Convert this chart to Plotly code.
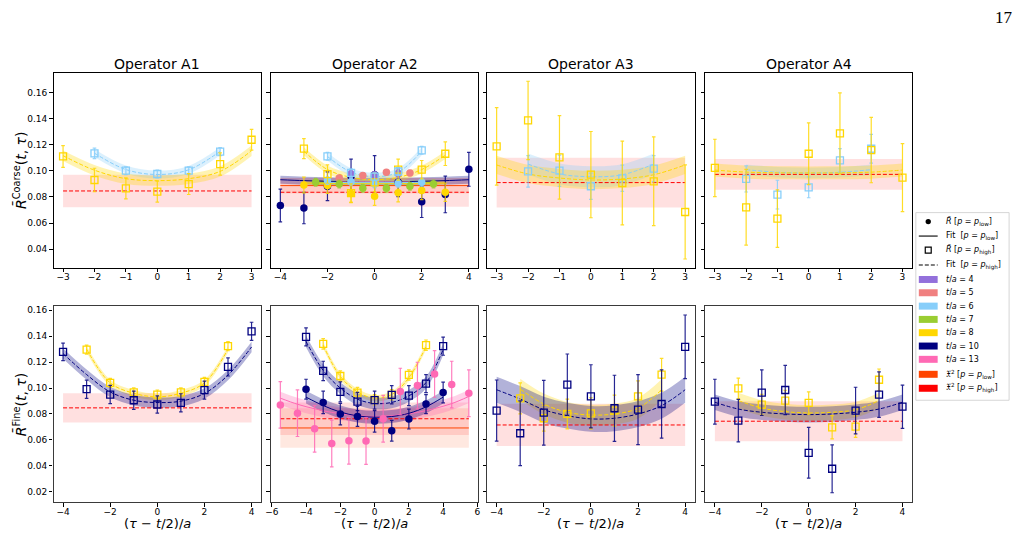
import plotly.graph_objects as go

# ------------------------------------------------------------------ data
TAU_4 = [-1, 0, 1]
TAU_5 = [-1.5, -0.5, 0.5, 1.5]
TAU_6 = [-2, -1, 0, 1, 2]
TAU_7 = [-2.5, -1.5, -0.5, 0.5, 1.5, 2.5]
TAU_8 = [-3, -2, -1, 0, 1, 2, 3]
TAU_10 = [-4, -3, -2, -1, 0, 1, 2, 3, 4]
TAU_13 = [-5.5, -4.5, -3.5, -2.5, -1.5, -0.5, 0.5, 1.5, 2.5, 3.5, 4.5, 5.5]

OPERATORS = ["Operator A1", "Operator A2", "Operator A3", "Operator A4"]
Y_TICKS_COARSE = [0.04, 0.06, 0.08, 0.10, 0.12, 0.14, 0.16]
Y_TICKS_FINE = [0.02, 0.04, 0.06, 0.08, 0.10, 0.12, 0.14, 0.16]
X_TICKS_UNIT = [-3, -2, -1, 0, 1, 2, 3]
X_TICKS_EVEN = [-4, -2, 0, 2, 4]
X_TICKS_WIDE = [-6, -4, -2, 0, 2, 4, 6]

# --- A1 coarse
A1C_T6_HI = [0.1134, 0.1001, 0.0976, 0.1001, 0.1147]
A1C_T6_HI_E = [0.004, 0.003, 0.003, 0.003, 0.003]
A1C_T6_FIT = [0.1135, 0.1010, 0.0972, 0.1008, 0.1150]
A1C_T8_HI = [0.1110, 0.0930, 0.0866, 0.0841, 0.0899, 0.1052, 0.1238]
A1C_T8_HI_E = [0.0083, 0.009, 0.008, 0.008, 0.008, 0.0085, 0.008]
A1C_T8_FIT = [0.1116, 0.1005, 0.0940, 0.0925, 0.0940, 0.0996, 0.1154]
A1C_CHI_HI = 0.0846
A1C_CHI_HI_W = 0.0125

# --- A2 coarse
A2C_T4_LO = [0.0975, 0.0965, 0.0979]
A2C_T4_LO_E = [0.003, 0.003, 0.003]
A2C_T4_FIT = [0.0920, 0.0918, 0.0920]
A2C_T5_LO = [0.0946, 0.0964, 0.0989, 0.0984]
A2C_T5_LO_E = [0.002, 0.002, 0.002, 0.002]
A2C_T5_FIT = [0.0916, 0.0914, 0.0914, 0.0916]
A2C_T6_LO = [0.0926, 0.0916, 0.0900, 0.0905, 0.0913]
A2C_T6_LO_E = [0.003, 0.003, 0.003, 0.003, 0.003]
A2C_T6_FIT = [0.0912, 0.0910, 0.0909, 0.0910, 0.0912]
A2C_T7_LO = [0.0913, 0.0900, 0.0867, 0.0867, 0.0882, 0.0900]
A2C_T7_LO_E = [0.003, 0.003, 0.003, 0.003, 0.003, 0.003]
A2C_T7_FIT = [0.0911, 0.0909, 0.0908, 0.0908, 0.0909, 0.0911]
A2C_T8_LO = [0.0892, 0.0887, 0.0826, 0.0806, 0.0832, 0.0849, 0.0837]
A2C_T8_LO_E = [0.006, 0.006, 0.007, 0.007, 0.007, 0.007, 0.007]
A2C_T8_LO_FIT = [0.0907, 0.0905, 0.0904, 0.0903, 0.0904, 0.0905, 0.0907]
A2C_T10_LO = [0.0735, 0.0715, 0.0882, 0.0959, 0.0971, 0.0913, 0.0763, 0.0819, 0.1012]
A2C_T10_LO_E = [0.0125, 0.012, 0.011, 0.013, 0.0146, 0.011, 0.012, 0.014, 0.013]
A2C_T10_LO_FIT = [0.0932, 0.0925, 0.0920, 0.0917, 0.0916, 0.0917, 0.0920, 0.0925, 0.0932]
A2C_T6_HI = [0.1111, 0.0985, 0.0955, 0.0995, 0.1157]
A2C_T6_HI_E = [0.003, 0.003, 0.003, 0.003, 0.003]
A2C_T6_HI_FIT = [0.1110, 0.0990, 0.0955, 0.0990, 0.1150]
A2C_T8_HI = [0.1170, 0.0975, 0.0830, 0.0912, 0.1009, 0.1009, 0.1131]
A2C_T8_HI_E = [0.0077, 0.007, 0.007, 0.007, 0.008, 0.007, 0.009]
A2C_T8_HI_FIT = [0.1150, 0.1010, 0.0950, 0.0933, 0.0950, 0.1010, 0.1120]
A2C_CHI_LO = 0.0887
A2C_CHI_LO_W = 0.006
A2C_CHI_HI = 0.0836
A2C_CHI_HI_W = 0.011

# --- A3 coarse
A3C_T6_HI = [0.0996, 0.1001, 0.0882, 0.0943, 0.1017]
A3C_T6_HI_E = [0.012, 0.012, 0.010, 0.010, 0.010]
A3C_T6_FIT = [0.1052, 0.0976, 0.0955, 0.0970, 0.1052]
A3C_T8_HI = [0.1187, 0.1386, 0.1103, 0.0971, 0.0907, 0.0920, 0.0685]
A3C_T8_HI_E = [0.0297, 0.030, 0.032, 0.033, 0.032, 0.034, 0.036]
A3C_T8_FIT = [0.1045, 0.0976, 0.0945, 0.0930, 0.0938, 0.0970, 0.1045]
A3C_CHI_HI = 0.0910
A3C_CHI_HI_W = 0.019

# --- A4 coarse
A4C_T6_HI = [0.0938, 0.0818, 0.0874, 0.1080, 0.1169]
A4C_T6_HI_E = [0.010, 0.011, 0.008, 0.009, 0.011]
A4C_T6_FIT = [0.1009, 0.0989, 0.0983, 0.0989, 0.1009]
A4C_T8_HI = [0.1022, 0.0721, 0.0634, 0.1131, 0.1287, 0.1159, 0.0948]
A4C_T8_HI_E = [0.022, 0.029, 0.022, 0.0236, 0.031, 0.025, 0.026]
A4C_T8_FIT = [0.1006, 0.0990, 0.0985, 0.0984, 0.0985, 0.0990, 0.1006]
A4C_CHI_HI = 0.0973
A4C_CHI_HI_W = 0.0118

# --- A1 fine
A1F_T8_HI = [0.1297, 0.1040, 0.0966, 0.0950, 0.0966, 0.1048, 0.1323]
A1F_T8_HI_E = [0.0035, 0.0035, 0.0035, 0.0035, 0.0035, 0.0035, 0.0035]
A1F_T8_FIT = [0.1300, 0.1040, 0.0960, 0.0932, 0.0960, 0.1040, 0.1300]
A1F_T10_HI = [0.1279, 0.0991, 0.0950, 0.0906, 0.0873, 0.0886, 0.0984, 0.1163, 0.1438]
A1F_T10_HI_E = [0.0067, 0.007, 0.007, 0.007, 0.0067, 0.007, 0.007, 0.007, 0.007]
A1F_T10_FIT = [0.1266, 0.1104, 0.0970, 0.0906, 0.0888, 0.0899, 0.0958, 0.1100, 0.1317]
A1F_CHI_HI = 0.0847
A1F_CHI_HI_W = 0.0112

# --- A2 fine
A2F_T8_HI = [0.1341, 0.1093, 0.0965, 0.0909, 0.0948, 0.1101, 0.1331]
A2F_T8_HI_E = [0.004, 0.004, 0.004, 0.004, 0.004, 0.004, 0.004]
A2F_T8_FIT = [0.1330, 0.1090, 0.0970, 0.0922, 0.0950, 0.1080, 0.1320]
A2F_T10_HI = [0.1395, 0.1132, 0.0971, 0.0896, 0.0907, 0.0948, 0.0942, 0.1034, 0.1323]
A2F_T10_HI_E = [0.007, 0.0075, 0.0077, 0.007, 0.007, 0.007, 0.0077, 0.007, 0.007]
A2F_T10_HI_FIT = [0.1360, 0.1137, 0.1000, 0.0914, 0.0881, 0.0889, 0.0940, 0.1042, 0.1298]
A2F_T10_LO = [0.0991, 0.0889, 0.0799, 0.0781, 0.0743, 0.0671, 0.0761, 0.0876, 0.0965]
A2F_T10_LO_E = [0.0077, 0.0087, 0.0083, 0.0077, 0.0083, 0.008, 0.0077, 0.0074, 0.008]
A2F_T10_LO_FIT = [0.0930, 0.0865, 0.0815, 0.0785, 0.0775, 0.0780, 0.0805, 0.0855, 0.0930]
A2F_T13_LO = [0.0870, 0.0806, 0.0685, 0.0572, 0.0593, 0.0591, 0.0763, 0.0973, 0.1019,
              0.1109, 0.1027, 0.0960]
A2F_T13_LO_E = [0.018, 0.018, 0.018, 0.018, 0.018, 0.018, 0.018, 0.018, 0.018, 0.018,
                0.018, 0.018]
A2F_T13_LO_FIT = [0.0922, 0.0875, 0.0840, 0.0812, 0.0793, 0.0782, 0.0782, 0.0793, 0.0812,
                  0.0842, 0.0880, 0.0935]
A2F_CHI_LO = 0.0692
A2F_CHI_LO_W = 0.0153
A2F_CHI_HI = 0.0763
A2F_CHI_HI_W = 0.0125

# --- A3 fine
A3F_T8_HI = [0.0920, 0.0767, 0.0800, 0.0805, 0.0826, 0.0936, 0.1103]
A3F_T8_HI_E = [0.012, 0.010, 0.0115, 0.012, 0.012, 0.012, 0.0126]
A3F_T8_FIT = [0.0992, 0.0877, 0.0813, 0.0792, 0.0800, 0.0844, 0.0987]
A3F_T10_HI = [0.0826, 0.0651, 0.0810, 0.1026, 0.0936, 0.0844, 0.0833, 0.0877, 0.1318]
A3F_T10_HI_E = [0.0236, 0.025, 0.025, 0.0237, 0.0244, 0.0255, 0.027, 0.0264, 0.0246]
A3F_T10_FIT = [0.0987, 0.0915, 0.0833, 0.0787, 0.0762, 0.0767, 0.0800, 0.0864, 0.0987]
A3F_CHI_HI = 0.0715
A3F_CHI_HI_W = 0.0163

# --- A4 fine
A4F_T8_HI = [0.0997, 0.0872, 0.0903, 0.0885, 0.0697, 0.0703, 0.1064]
A4F_T8_HI_E = [0.008, 0.008, 0.008, 0.0086, 0.009, 0.0083, 0.0083]
A4F_T8_FIT = [0.0903, 0.0846, 0.0818, 0.0808, 0.0813, 0.0833, 0.0903]
A4F_T10_HI = [0.0895, 0.0749, 0.0964, 0.0985, 0.0500, 0.0377, 0.0826, 0.0949, 0.0856]
A4F_T10_HI_E = [0.0173, 0.0164, 0.0176, 0.019, 0.0196, 0.0185, 0.018, 0.0176, 0.0167]
A4F_T10_FIT = [0.0890, 0.0838, 0.0813, 0.0800, 0.0795, 0.0800, 0.0813, 0.0838, 0.0890]
A4F_CHI_HI = 0.0744
A4F_CHI_HI_W = 0.0155

LEGEND_LABELS = [
    "<i>R̄</i> [<i>p</i> = <i>p</i><sub>low</sub>]",
    "Fit  [<i>p</i> = <i>p</i><sub>low</sub>]",
    "<i>R̄</i> [<i>p</i> = <i>p</i><sub>high</sub>]",
    "Fit  [<i>p</i> = <i>p</i><sub>high</sub>]",
    "<i>t</i>/<i>a</i> = 4", "<i>t</i>/<i>a</i> = 5", "<i>t</i>/<i>a</i> = 6",
    "<i>t</i>/<i>a</i> = 7", "<i>t</i>/<i>a</i> = 8", "<i>t</i>/<i>a</i> = 10",
    "<i>t</i>/<i>a</i> = 13",
    "𝔛<sup>2</sup> [<i>p</i> = <i>p</i><sub>low</sub>]",
    "𝔛<sup>2</sup> [<i>p</i> = <i>p</i><sub>high</sub>]",
]

# ------------------------------------------------------------------ styles
COL = {"t4": "#9370DB", "t5": "#F08080", "t6": "#87CEFA", "t7": "#9ACD32",
       "t8": "#FFD700", "t10": "#000080", "t13": "#FF69B4",
       "chi_lo": "#FF4500", "chi_hi": "#FF0000"}
LEG_KEYS = ["t4", "t5", "t6", "t7", "t8", "t10", "t13", "chi_lo", "chi_hi"]
FONT = "DejaVu Sans"
W, H = 1024, 535
COLS_PX = [(48, 257), (267, 476), (485, 694), (705, 913)]
ROWS_PX = [(72, 267), (306, 502)]

# series table: panel, tau, y, err, fit, fit half width, colour, kind
SERIES = [
    (1, TAU_6, A1C_T6_HI, A1C_T6_HI_E, A1C_T6_FIT, 0.003, "t6", "hi"),
    (1, TAU_8, A1C_T8_HI, A1C_T8_HI_E, A1C_T8_FIT, 0.004, "t8", "hi"),
    (2, TAU_10, A2C_T10_LO, A2C_T10_LO_E, A2C_T10_LO_FIT, 0.003, "t10", "lo"),
    (2, TAU_4, A2C_T4_LO, A2C_T4_LO_E, A2C_T4_FIT, 0.0025, "t4", "lo"),
    (2, TAU_5, A2C_T5_LO, A2C_T5_LO_E, A2C_T5_FIT, 0.002, "t5", "lo"),
    (2, TAU_7, A2C_T7_LO, A2C_T7_LO_E, A2C_T7_FIT, 0.002, "t7", "lo"),
    (2, TAU_8, A2C_T8_LO, A2C_T8_LO_E, A2C_T8_LO_FIT, 0.002, "t8", "lo"),
    (2, TAU_6, A2C_T6_LO, A2C_T6_LO_E, A2C_T6_FIT, 0.002, "t6", "lo"),
    (2, TAU_8, A2C_T8_HI, A2C_T8_HI_E, A2C_T8_HI_FIT, 0.003, "t8", "hi"),
    (2, TAU_6, A2C_T6_HI, A2C_T6_HI_E, A2C_T6_HI_FIT, 0.003, "t6", "hi"),
    (3, TAU_6, A3C_T6_HI, A3C_T6_HI_E, A3C_T6_FIT, 0.008, "t6", "hi"),
    (3, TAU_8, A3C_T8_HI, A3C_T8_HI_E, A3C_T8_FIT, 0.007, "t8", "hi"),
    (4, TAU_6, A4C_T6_HI, A4C_T6_HI_E, A4C_T6_FIT, 0.004, "t6", "hi"),
    (4, TAU_8, A4C_T8_HI, A4C_T8_HI_E, A4C_T8_FIT, 0.005, "t8", "hi"),
    (5, TAU_8, A1F_T8_HI, A1F_T8_HI_E, A1F_T8_FIT, 0.0025, "t8", "hi"),
    (5, TAU_10, A1F_T10_HI, A1F_T10_HI_E, A1F_T10_FIT, 0.004, "t10", "hi"),
    (6, TAU_13, A2F_T13_LO, A2F_T13_LO_E, A2F_T13_LO_FIT, 0.005, "t13", "lo"),
    (6, TAU_10, A2F_T10_LO, A2F_T10_LO_E, A2F_T10_LO_FIT, 0.005, "t10", "lo"),
    (6, TAU_8, A2F_T8_HI, A2F_T8_HI_E, A2F_T8_FIT, 0.0025, "t8", "hi"),
    (6, TAU_10, A2F_T10_HI, A2F_T10_HI_E, A2F_T10_HI_FIT, 0.0045, "t10", "hi"),
    (7, TAU_8, A3F_T8_HI, A3F_T8_HI_E, A3F_T8_FIT, 0.008, "t8", "hi"),
    (7, TAU_10, A3F_T10_HI, A3F_T10_HI_E, A3F_T10_FIT, 0.010, "t10", "hi"),
    (8, TAU_8, A4F_T8_HI, A4F_T8_HI_E, A4F_T8_FIT, 0.006, "t8", "hi"),
    (8, TAU_10, A4F_T10_HI, A4F_T10_HI_E, A4F_T10_FIT, 0.006, "t10", "hi"),
]

# chi^2 table: panel, tau span, value, half width, colour, kind
CHI = [
    (1, TAU_8, A1C_CHI_HI, A1C_CHI_HI_W, "chi_hi", "hi"),
    (2, TAU_10, A2C_CHI_LO, A2C_CHI_LO_W, "chi_lo", "lo"),
    (2, TAU_10, A2C_CHI_HI, A2C_CHI_HI_W, "chi_hi", "hi"),
    (3, TAU_8, A3C_CHI_HI, A3C_CHI_HI_W, "chi_hi", "hi"),
    (4, TAU_8, A4C_CHI_HI, A4C_CHI_HI_W, "chi_hi", "hi"),
    (5, TAU_10, A1F_CHI_HI, A1F_CHI_HI_W, "chi_hi", "hi"),
    (6, TAU_13, A2F_CHI_LO, A2F_CHI_LO_W, "chi_lo", "lo"),
    (6, TAU_13, A2F_CHI_HI, A2F_CHI_HI_W, "chi_hi", "hi"),
    (7, TAU_10, A3F_CHI_HI, A3F_CHI_HI_W, "chi_hi", "hi"),
    (8, TAU_10, A4F_CHI_HI, A4F_CHI_HI_W, "chi_hi", "hi"),
]

X_RANGE = {1: [-3.3, 3.3], 2: [-4.4, 4.4], 3: [-3.3, 3.3], 4: [-3.3, 3.3],
           5: [-4.4, 4.4], 6: [-6.05, 6.05], 7: [-4.4, 4.4], 8: [-4.4, 4.4]}
X_TICKS = {1: X_TICKS_UNIT, 2: X_TICKS_EVEN, 3: X_TICKS_UNIT, 4: X_TICKS_UNIT,
           5: X_TICKS_EVEN, 6: X_TICKS_WIDE, 7: X_TICKS_EVEN, 8: X_TICKS_EVEN}
Y_RANGE = [[0.026, 0.175], [0.012, 0.163]]
Y_TICKS = [Y_TICKS_COARSE, Y_TICKS_FINE]

DASH = "4px,2px"


def rgba(h, a):
    h = h.lstrip("#")
    return "rgba(%d,%d,%d,%.3f)" % (int(h[0:2], 16), int(h[2:4], 16), int(h[4:6], 16), a)


def axn(k):
    return ("x" if k == 1 else "x%d" % k), ("y" if k == 1 else "y%d" % k)


fig = go.Figure()
common = dict(showlegend=False, hoverinfo="skip")

# layer 1: chi^2 bands
for k, tau, v, w, c, kind in CHI:
    xa, ya = axn(k)
    xs = [min(tau), max(tau)]
    fig.add_trace(go.Scatter(x=xs, y=[v - w, v - w], mode="lines", line=dict(width=0),
                             xaxis=xa, yaxis=ya, **common))
    fig.add_trace(go.Scatter(x=xs, y=[v + w, v + w], mode="lines", line=dict(width=0),
                             fill="tonexty", fillcolor=rgba(COL[c], 0.12),
                             xaxis=xa, yaxis=ya, **common))

# layer 2: fit bands
for k, tau, y, e, fit, fw, c, kind in SERIES:
    xa, ya = axn(k)
    lo = [f - fw for f in fit]
    hi = [f + fw for f in fit]
    fig.add_trace(go.Scatter(x=tau, y=lo, mode="lines", line=dict(width=0, shape="spline"),
                             xaxis=xa, yaxis=ya, **common))
    fig.add_trace(go.Scatter(x=tau, y=hi, mode="lines", line=dict(width=0, shape="spline"),
                             fill="tonexty", fillcolor=rgba(COL[c], 0.3),
                             xaxis=xa, yaxis=ya, **common))

# layer 3: lines
for k, tau, v, w, c, kind in CHI:
    xa, ya = axn(k)
    xs = [min(tau), max(tau)]
    fig.add_trace(go.Scatter(x=xs, y=[v, v], mode="lines",
                             line=dict(width=1, color=COL[c], dash=DASH if kind == "hi" else "solid"),
                             xaxis=xa, yaxis=ya, **common))
for k, tau, y, e, fit, fw, c, kind in SERIES:
    xa, ya = axn(k)
    fig.add_trace(go.Scatter(x=tau, y=fit, mode="lines",
                             line=dict(width=1, color=COL[c], shape="spline",
                                       dash=DASH if kind == "hi" else "solid"),
                             xaxis=xa, yaxis=ya, **common))

# layer 4: data points
for k, tau, y, e, fit, fw, c, kind in SERIES:
    xa, ya = axn(k)
    if kind == "lo":
        mk = dict(symbol="circle", size=7.5, color=COL[c], line=dict(width=0))
    else:
        mk = dict(symbol="square-open", size=7, color=COL[c], line=dict(width=1.3))
    fig.add_trace(go.Scatter(x=tau, y=y, mode="markers", marker=mk,
                             error_y=dict(type="data", array=e, color=rgba(COL[c], 0.85),
                                          thickness=1.2, width=1.8),
                             xaxis=xa, yaxis=ya, **common))

# ------------------------------------------------------------------ axes
layout = dict(width=W, height=H, margin=dict(l=0, r=0, t=0, b=0),
              paper_bgcolor="white", plot_bgcolor="white",
              font=dict(family=FONT, color="black"), showlegend=False)
for k in range(1, 9):
    r, cidx = (k - 1) // 4, (k - 1) % 4
    x0, x1 = COLS_PX[cidx]
    y0, y1 = ROWS_PX[r]
    xa, ya = axn(k)
    lc = "black" if r == 0 else "#3a3a3a"
    lw = 1 if r == 0 else 1.3
    xkey = "xaxis" if k == 1 else "xaxis%d" % k
    ykey = "yaxis" if k == 1 else "yaxis%d" % k
    layout[xkey] = dict(domain=[x0 / W, x1 / W], range=X_RANGE[k], anchor=ya,
                        showline=True, mirror=True, linecolor=lc, linewidth=lw,
                        ticks="outside", ticklen=3.5, tickwidth=0.8, tickcolor="black",
                        tickvals=X_TICKS[k], showgrid=False, zeroline=False,
                        ticklabelstandoff=-3,
                        tickfont=dict(size=9, family=FONT, color="black"))
    layout[ykey] = dict(domain=[1 - y1 / H, 1 - y0 / H], range=Y_RANGE[r], anchor=xa,
                        showline=True, mirror=True, linecolor=lc, linewidth=lw,
                        ticks="outside", ticklen=3.5, tickwidth=0.8, tickcolor="black",
                        tickvals=Y_TICKS[r], tickformat=".2f", showgrid=False,
                        zeroline=False, showticklabels=(cidx == 0),
                        tickfont=dict(size=9, family=FONT, color="black"))

ann = []
for i, name in enumerate(OPERATORS):
    x0, x1 = COLS_PX[i]
    ann.append(dict(text=name, x=(x0 + x1) / 2 / W, y=1 - 63 / H, xref="paper", yref="paper",
                    showarrow=False, xanchor="center", yanchor="middle",
                    font=dict(size=14, family=FONT, color="black")))
    ann.append(dict(text="(<i>τ</i> − <i>t</i>/2)/<i>a</i>", x=(x0 + x1) / 2 / W, y=1 - 523 / H,
                    xref="paper", yref="paper", showarrow=False, xanchor="center",
                    yanchor="middle", font=dict(size=13, family=FONT, color="black")))
for r, lab in enumerate(["<i>R̄</i><sup>Coarse</sup>(<i>t</i>, <i>τ</i>)",
                         "<i>R̄</i><sup>Fine</sup>(<i>t</i>, <i>τ</i>)"]):
    y0, y1 = ROWS_PX[r]
    ann.append(dict(text=lab, x=14 / W, y=1 - (y0 + y1) / 2 / H, xref="paper", yref="paper",
                    showarrow=False, textangle=-90, xanchor="center", yanchor="middle",
                    font=dict(size=14, family=FONT, color="black")))
ann.append(dict(text="17", x=1006 / W, y=1 - 17 / H, xref="paper", yref="paper",
                showarrow=False, xanchor="center", yanchor="middle",
                font=dict(size=17, family="Liberation Serif", color="black")))

# ------------------------------------------------------------------ legend (drawn)
def px(x):
    return x / W


def py(y):
    return 1 - y / H


shapes = [dict(type="rect", xref="paper", yref="paper", x0=px(917), x1=px(1011),
               y0=py(400), y1=py(212), line=dict(color="#cccccc", width=0.8),
               fillcolor="white", layer="above")]
ROW_Y = [221, 235.5, 249.5, 264.5, 279, 292.3, 305.7, 319, 332.3, 345.7, 359, 374, 388]
HX0, HX1 = 920, 939
HXC = (HX0 + HX1) / 2
for i, (lab, yc) in enumerate(zip(LEGEND_LABELS, ROW_Y)):
    if i == 0:
        shapes.append(dict(type="circle", xref="paper", yref="paper", x0=px(HXC - 2.7),
                           x1=px(HXC + 2.7), y0=py(yc + 2.7), y1=py(yc - 2.7),
                           fillcolor="black", line=dict(width=0), layer="above"))
    elif i == 1 or i == 3:
        shapes.append(dict(type="line", xref="paper", yref="paper", x0=px(HX0), x1=px(HX1),
                           y0=py(yc), y1=py(yc), layer="above",
                           line=dict(color="black", width=1.1,
                                     dash="solid" if i == 1 else "4px,2px")))
    elif i == 2:
        shapes.append(dict(type="rect", xref="paper", yref="paper", x0=px(HXC - 3),
                           x1=px(HXC + 3), y0=py(yc + 3), y1=py(yc - 3),
                           fillcolor="white", line=dict(color="black", width=1.2),
                           layer="above"))
    else:
        c = COL[LEG_KEYS[i - 4]]
        shapes.append(dict(type="rect", xref="paper", yref="paper", x0=px(HX0), x1=px(HX1),
                           y0=py(yc + 3.5), y1=py(yc - 3.5), fillcolor=c,
                           line=dict(width=0), layer="above"))
    ann.append(dict(text=lab, x=px(945), y=py(yc), xref="paper", yref="paper",
                    showarrow=False, xanchor="left", yanchor="middle",
                    font=dict(size=8, family=FONT, color="black")))

layout["annotations"] = ann
layout["shapes"] = shapes
fig.update_layout(**layout)
fig.write_html("out.html")
